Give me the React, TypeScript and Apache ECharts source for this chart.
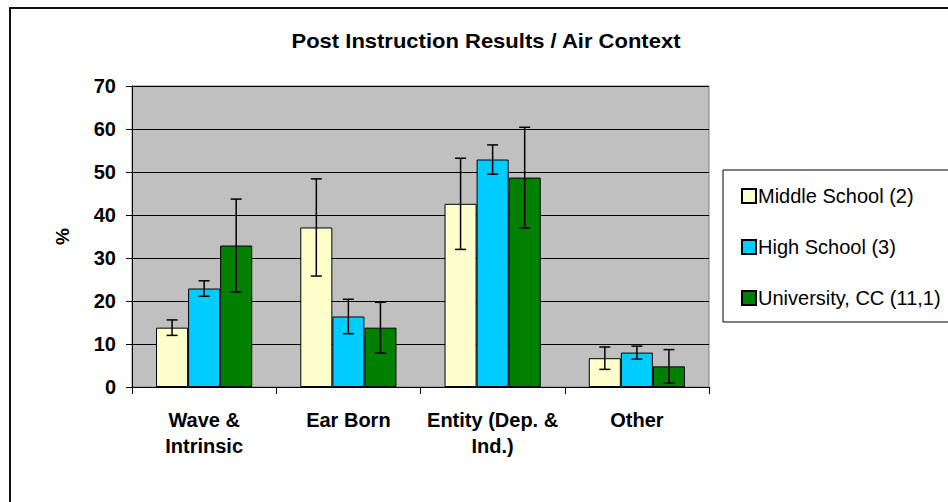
import React, { useEffect, useRef } from "react";
import * as echarts from "echarts";

const categories = ["Wave &\nIntrinsic", "Ear Born", "Entity (Dep. &\nInd.)", "Other"];
const seriesNames = ["Middle School (2)", "High School (3)", "University, CC (11,1)"];
const middleValues = [13.8, 37.1, 42.6, 6.7];
const highValues = [22.9, 16.4, 52.9, 8.0];
const univValues = [32.9, 13.8, 48.7, 4.8];
const middleErrors = [1.8, 11.3, 10.6, 2.6];
const highErrors = [1.8, 4.0, 3.4, 1.5];
const univErrors = [10.8, 5.9, 11.7, 3.9];
const yTicks = [0, 10, 20, 30, 40, 50, 60, 70];
const colors = ["#ffffcc", "#00ccff", "#008000"];

const FONT = "'Liberation Sans', Arial, sans-serif";

export default function App() {
  const ref = useRef<HTMLDivElement>(null);
  useEffect(() => {
    if (!ref.current) return;
    const chart = echarts.init(ref.current, null, { renderer: "svg" });
    const values = [middleValues, highValues, univValues];
    const errors = [middleErrors, highErrors, univErrors];
    const barSeries = seriesNames.map((name, s) => ({
      name,
      type: "bar",
      data: values[s],
      barWidth: "22.222%",
      barGap: "0%",
      itemStyle: { color: colors[s], borderColor: "#000", borderWidth: 1 },
      z: 2,
    }));
    const errSeries = seriesNames.map((name, s) => ({
      name: name + " error",
      type: "custom",
      z: 5,
      data: values[s].map((v, i) => [i, v, errors[s][i]]),
      renderItem: (params: any, api: any) => {
        const i = api.value(0);
        const v = api.value(1);
        const e = api.value(2);
        const band = api.size([1, 0])[0];
        const off = ((s - 1) * band) / 4.5;
        const hi = api.coord([i, v + e]);
        const lo = api.coord([i, v - e]);
        const x = hi[0] + off;
        const cap = 5.5;
        const st = { stroke: "#000", lineWidth: 1.5 };
        return {
          type: "group",
          children: [
            { type: "line", shape: { x1: x, y1: hi[1], x2: x, y2: lo[1] }, style: st },
            { type: "line", shape: { x1: x - cap, y1: hi[1], x2: x + cap, y2: hi[1] }, style: st },
            { type: "line", shape: { x1: x - cap, y1: lo[1], x2: x + cap, y2: lo[1] }, style: st },
          ],
        };
      },
    }));
    chart.setOption({
      animation: false,
      textStyle: { fontFamily: FONT },
      graphic: [
        {
          type: "rect",
          shape: { x: 10, y: 8, width: 1000, height: 600 },
          style: { fill: "none", stroke: "#111", lineWidth: 2 },
          z: 0,
        },
        {
          type: "text",
          x: 486,
          y: 41,
          scaleX: 1.1,
          style: {
            text: "Post Instruction Results / Air Context",
            fontFamily: FONT,
            fontWeight: "bold",
            fontSize: 20,
            fill: "#000",
            textAlign: "center",
            textVerticalAlign: "middle",
          },
        },
      ],
      legend: {
        data: seriesNames,
        orient: "vertical",
        left: 723,
        top: 170,
        borderColor: "#000",
        borderWidth: 1,
        padding: [16, 80, 14, 18],
        itemWidth: 14,
        itemHeight: 14,
        itemGap: 31,
        icon: "rect",
        textStyle: {
          fontSize: 20,
          fontFamily: FONT,
          color: "#000",
          lineHeight: 15,
          padding: [0, 0, 0, -3],
        },
      },
      grid: {
        left: 132,
        right: 239,
        top: 86,
        bottom: 115,
        show: true,
        backgroundColor: "#c0c0c0",
        borderColor: "#808080",
        borderWidth: 1,
      },
      xAxis: {
        type: "category",
        data: categories,
        axisLine: { lineStyle: { color: "#000", width: 1 } },
        axisTick: { show: true, length: 7, lineStyle: { color: "#000" } },
        axisLabel: {
          interval: 0,
          margin: 20,
          fontSize: 20,
          fontWeight: "bold",
          color: "#000",
          lineHeight: 26,
          fontFamily: FONT,
        },
      },
      yAxis: {
        type: "value",
        min: 0,
        max: 70,
        interval: 10,
        name: "%",
        nameLocation: "middle",
        nameGap: 60,
        nameRotate: 90,
        nameTextStyle: { fontSize: 19, fontWeight: "bold", color: "#000", fontFamily: FONT },
        axisLine: { show: true, lineStyle: { color: "#000", width: 1 } },
        axisTick: { show: true, length: 6, lineStyle: { color: "#000" } },
        axisLabel: {
          margin: 16,
          fontSize: 20,
          fontWeight: "bold",
          color: "#000",
          fontFamily: FONT,
          formatter: (v: number) => (yTicks.includes(v) ? String(v) : ""),
        },
        splitLine: { show: true, lineStyle: { color: "#000", width: 1 } },
      },
      series: [...barSeries, ...errSeries],
    });
    return () => chart.dispose();
  }, []);
  return (
    <div
      ref={ref}
      style={{ position: "fixed", left: 0, top: 0, width: 948, height: 502, background: "#fff" }}
    />
  );
}
